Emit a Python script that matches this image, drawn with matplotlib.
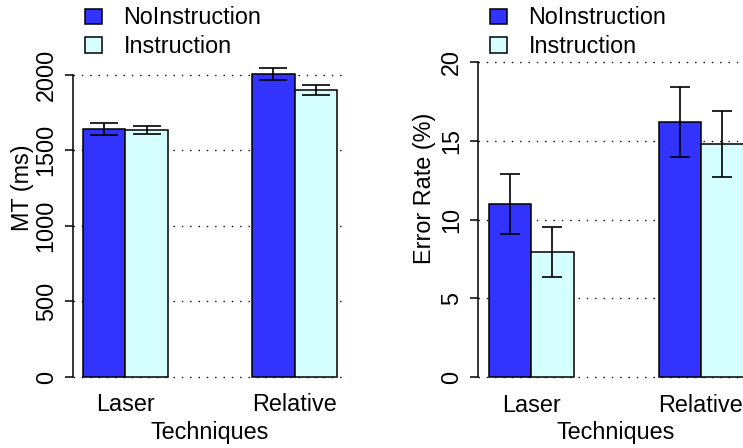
import matplotlib
matplotlib.use("Agg")
import matplotlib.pyplot as plt
import numpy as np

plt.rcParams['font.family'] = ['Liberation Sans', 'DejaVu Sans']
plt.rcParams['font.size'] = 16.8

tecnicas = ["Laser", "Relative"]
grupos = ["NoInstruction", "Instruction"]
colores = ["#3333ff", "#d5ffff"]

mt_media = [[1641, 2007], [1634, 1899]]
mt_error = [[37, 39], [27, 30]]
err_media = [[11.0, 16.2], [7.95, 14.8]]
err_error = [[1.9, 2.2], [1.6, 2.1]]

mt_ticks = [0, 500, 1000, 1500, 2000]
err_ticks = [0, 5, 10, 15, 20]

fig = plt.figure(figsize=(7.43, 4.48), dpi=100)

# posiciones en pixeles medidas sobre la imagen original
ax1 = fig.add_axes([73 / 743, 1 - 389.7 / 448, 274 / 743, 342.8 / 448])
ax2 = fig.add_axes([478.3 / 743, 1 - 390.2 / 448, 275.4 / 743, 356.9 / 448])

pos_grupo = np.array([0, 4])


def panel(ax, medias, errores, ticks, ylim, ylabel, capsize, xlab_y):
    for y in ticks:
        ax.axhline(y, color="black", lw=1, ls=(0, (1, 5)), zorder=0)
    for i in range(2):
        x = pos_grupo + i
        ax.bar(x, medias[i], width=1, align="edge", color=colores[i],
               edgecolor="black", linewidth=1.1, label=grupos[i], zorder=2)
        ax.errorbar(x + 0.5, medias[i], yerr=errores[i], fmt="none",
                    ecolor="black", elinewidth=1.2, capsize=capsize,
                    capthick=1.2, zorder=3)
    ax.set_xlim(-0.24, 6.24)
    ax.set_ylim(*ylim)
    for s in ["top", "right", "bottom"]:
        ax.spines[s].set_visible(False)
    ax.spines["left"].set_bounds(ticks[0], ticks[-1])
    ax.spines["left"].set_linewidth(1.1)
    ax.set_yticks(ticks)
    ax.set_yticklabels([str(t) for t in ticks], rotation=90, va="center")
    ax.tick_params(axis="y", direction="out", length=6, width=1.1, pad=5)
    ax.set_xticks(pos_grupo + 1)
    ax.set_xticklabels(tecnicas)
    ax.tick_params(axis="x", length=0, pad=2.5)
    ax.set_xlabel("Techniques")
    ax.xaxis.set_label_coords(0.5, xlab_y)
    ax.xaxis.label.set_va("baseline")
    ax.set_ylabel(ylabel)


panel(ax1, mt_media, mt_error, mt_ticks, (-84, 2184), "MT (ms)", 10, -0.1438)
panel(ax2, err_media, err_error, err_ticks, (-0.84, 21.84), "Error Rate (%)", 7.4, -0.1367)

ax1.yaxis.set_label_coords((34 - 73) / 274, (389.7 - 188) / 342.8)
ax2.yaxis.set_label_coords((436 - 478.3) / 275.4, (390.2 - 188) / 356.9)

for ax, x0 in [(ax1, 85), (ax2, 490)]:
    ax.legend(loc="upper left", bbox_to_anchor=(x0 / 743, 1 - 6.5 / 448),
              bbox_transform=fig.transFigure, frameon=False, borderpad=0,
              borderaxespad=0, handlelength=0.73, handleheight=0.65,
              handletextpad=0.92, labelspacing=0.24)

fig.savefig("out.png", dpi=100)
